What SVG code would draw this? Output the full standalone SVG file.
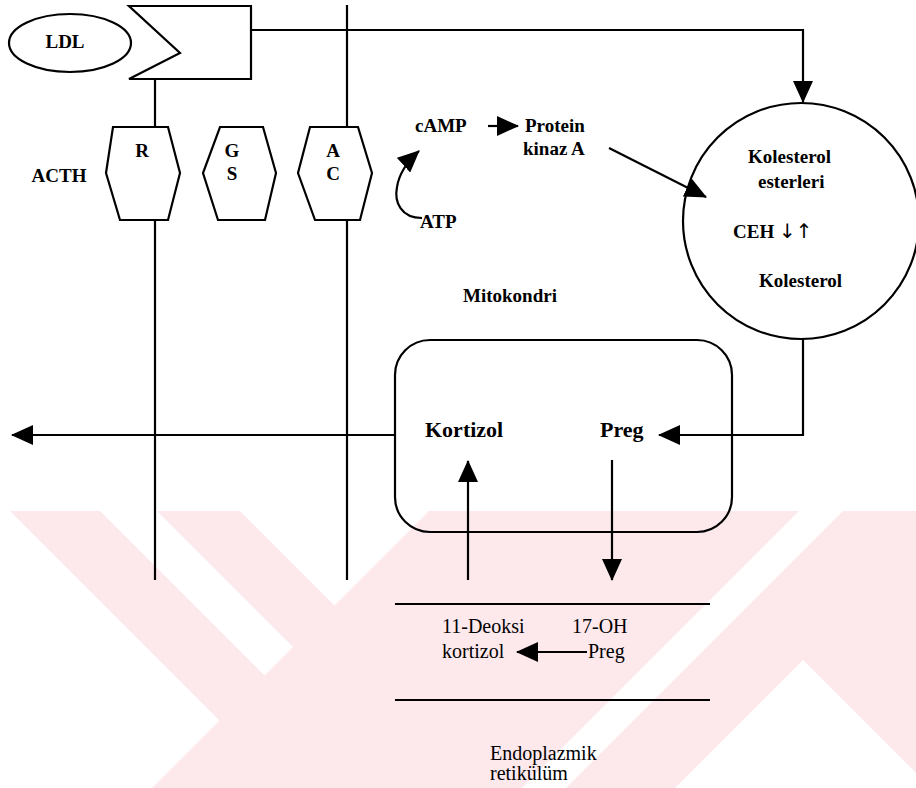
<svg xmlns="http://www.w3.org/2000/svg" width="916" height="788" viewBox="0 0 916 788">
<style>
.ln{fill:none;stroke:#000;stroke-width:2.2}
.sh{fill:#fff;stroke:#000;stroke-width:2.2}
.wm{fill:#fde8ec}
.wh{fill:#fff}
.t{font-family:'Liberation Serif','Times New Roman',serif}
</style>
<defs>
<marker id="ah" markerUnits="userSpaceOnUse" markerWidth="22" markerHeight="20" refX="21" refY="10" orient="auto">
<path d="M0,0 L22,10 L0,20 z" fill="#000"/>
</marker>
</defs>
<g id="watermark">
<rect class="wm" x="0" y="511" width="916" height="277"/>
<polygon class="wh" points="0,511 10,511 219.5,720.5 152,788 0,788"/>
<polygon class="wh" points="100,511 157,511 293,647 264.5,675.5"/>
<polygon class="wh" points="240,511 334.5,605.5 429,511"/>
<polygon class="wh" points="799,511 843,511 566,788 522,788"/>
<polygon class="wh" points="803,660 916,773 916,788 675,788"/>
</g>
<g id="connectors">
<path class="ln" d="M155,79 V580"/>
<path class="ln" d="M347,5 V580"/>
<path class="ln" d="M251,30 H803 V102" marker-end="url(#ah)"/>
<path class="ln" d="M609,148 L706,197" marker-end="url(#ah)"/>
<path class="ln" d="M488,126 L518,126" marker-end="url(#ah)"/>
<path class="ln" d="M422,218 C401,218 394,202 397,187 C399,174 408,161 419,151" marker-end="url(#ah)"/>
<path class="ln" d="M803,339 V435 H659" marker-end="url(#ah)"/>
<path class="ln" d="M395,435 H12" marker-end="url(#ah)"/>
<path class="ln" d="M468,580 V461" marker-end="url(#ah)"/>
<path class="ln" d="M612,460 V580" marker-end="url(#ah)"/>
<path class="ln" d="M587,652 H517" marker-end="url(#ah)"/>
</g>
<g class="t" fill="#000">
<g id="ldl">
<ellipse class="sh" cx="70" cy="43" rx="61" ry="29"/>
<text font-weight="bold" font-size="19" x="65" y="48" text-anchor="middle">LDL</text>
</g>
<g id="receptor">
<polygon class="sh" points="129,6 251,6 251,79 129,79 180,53"/>
</g>
<g id="acth">
<text font-weight="bold" font-size="19" x="59" y="182" text-anchor="middle">ACTH</text>
</g>
<g id="hex-r">
<polygon class="sh" points="113,127 168,127 180,173 168,220 120,220 106,173"/>
<text font-weight="bold" font-size="19" x="142" y="157" text-anchor="middle">R</text>
</g>
<g id="hex-gs">
<polygon class="sh" points="220,127 263,127 276,173 265,220 218,220 203,173"/>
<text font-weight="bold" font-size="19" x="232" y="157" text-anchor="middle">G</text>
<text font-weight="bold" font-size="19" x="232" y="180" text-anchor="middle">S</text>
</g>
<g id="hex-ac">
<polygon class="sh" points="310,127 358,127 372,173 360,220 315,220 298,173"/>
<text font-weight="bold" font-size="19" x="333" y="157" text-anchor="middle">A</text>
<text font-weight="bold" font-size="19" x="333" y="180" text-anchor="middle">C</text>
</g>
<g id="camp">
<text font-weight="bold" font-size="19" x="415" y="132">cAMP</text>
</g>
<g id="pka">
<text font-weight="bold" font-size="19" x="525" y="132">Protein</text>
<text font-weight="bold" font-size="19" x="523" y="155">kinaz A</text>
</g>
<g id="atp">
<text font-weight="bold" font-size="19" x="420" y="228">ATP</text>
</g>
<g id="circle">
<circle class="ln" cx="801" cy="221" r="118"/>
<text font-weight="bold" font-size="19" x="748" y="163">Kolesterol</text>
<text font-weight="bold" font-size="19" x="758" y="188">esterleri</text>
<text font-weight="bold" font-size="19" x="733" y="238">CEH <tspan font-family="'DejaVu Sans',sans-serif" font-size="20" font-weight="normal">↓↑</tspan></text>
<text font-weight="bold" font-size="19" x="759" y="287">Kolesterol</text>
</g>
<g id="mito-label">
<text font-weight="bold" font-size="19" x="463" y="302">Mitokondri</text>
</g>
<g id="mito">
<rect class="ln" x="395" y="340" width="337" height="192" rx="35"/>
<text font-weight="bold" font-size="22" x="425" y="437">Kortizol</text>
<text font-weight="bold" font-size="22" x="600" y="437">Preg</text>
</g>
<g id="er">
<path class="ln" d="M395,604 H710 M395,700 H710"/>
<text font-size="20" x="442" y="633">11-Deoksi</text>
<text font-size="20" x="442" y="658">kortizol</text>
<text font-size="20" x="572" y="633">17-OH</text>
<text font-size="20" x="588" y="658">Preg</text>
<text font-size="20" x="490" y="760">Endoplazmik</text>
<text font-size="20" x="490" y="780">retikülüm</text>
</g>
</g>
</svg>
